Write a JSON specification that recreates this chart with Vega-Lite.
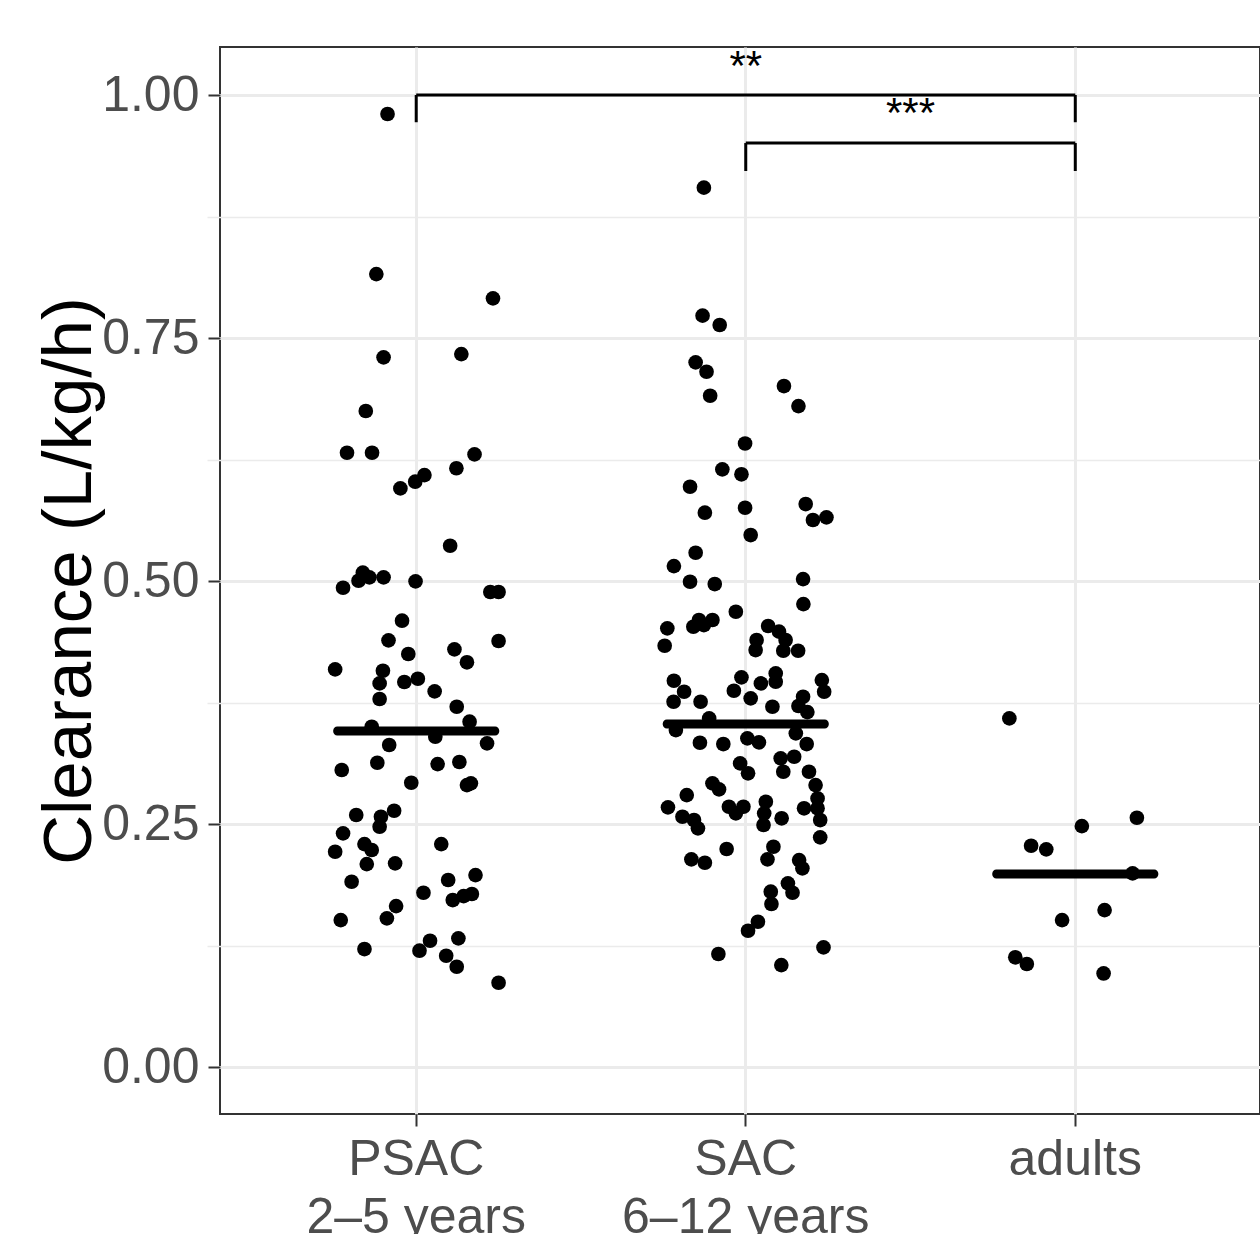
{
"$schema": "https://vega.github.io/schema/vega-lite/v6.json",
"autosize": {"type": "none"},
"padding": {"left": 220, "top": 47, "right": 0, "bottom": 120},
"width": 1040,
"height": 1067,
"background": "white",
"config": {
  "view": {"stroke": "#333333", "strokeWidth": 2},
  "font": "Liberation Sans",
  "axis": {"gridColor": "#EBEBEB", "gridWidth": 3, "domain": false, "tickColor": "#333333", "tickWidth": 2, "tickSize": 12, "labelColor": "#4D4D4D", "labelFont": "Liberation Sans", "labelFontSize": 50, "labelLimit": 0, "titleFont": "Liberation Sans", "titleColor": "#000000", "titleFontWeight": "normal"}
},
"datasets": {
  "points": [
    {"group":"PSAC","clearance":0.9805,"jitter":-0.087},{"group":"PSAC","clearance":0.8158,"jitter":-0.121},{"group":"PSAC","clearance":0.7908,"jitter":0.233},{"group":"PSAC","clearance":0.7301,"jitter":-0.099},{"group":"PSAC","clearance":0.7335,"jitter":0.137},{"group":"PSAC","clearance":0.6749,"jitter":-0.153},{"group":"PSAC","clearance":0.632,"jitter":-0.21},{"group":"PSAC","clearance":0.632,"jitter":-0.134},{"group":"PSAC","clearance":0.6303,"jitter":0.177},{"group":"PSAC","clearance":0.616,"jitter":0.122},{"group":"PSAC","clearance":0.609,"jitter":0.025},{"group":"PSAC","clearance":0.6022,"jitter":-0.003},{"group":"PSAC","clearance":0.5953,"jitter":-0.048},{"group":"PSAC","clearance":0.5363,"jitter":0.103},{"group":"PSAC","clearance":0.5086,"jitter":-0.162},{"group":"PSAC","clearance":0.5038,"jitter":-0.142},{"group":"PSAC","clearance":0.5003,"jitter":-0.175},{"group":"PSAC","clearance":0.5038,"jitter":-0.099},{"group":"PSAC","clearance":0.4931,"jitter":-0.222},{"group":"PSAC","clearance":0.4997,"jitter":-0.002},{"group":"PSAC","clearance":0.4887,"jitter":0.225},{"group":"PSAC","clearance":0.4887,"jitter":0.25},{"group":"PSAC","clearance":0.4592,"jitter":-0.043},{"group":"PSAC","clearance":0.439,"jitter":-0.084},{"group":"PSAC","clearance":0.4383,"jitter":0.25},{"group":"PSAC","clearance":0.4249,"jitter":-0.024},{"group":"PSAC","clearance":0.4297,"jitter":0.116},{"group":"PSAC","clearance":0.4164,"jitter":0.154},{"group":"PSAC","clearance":0.4091,"jitter":-0.246},{"group":"PSAC","clearance":0.4077,"jitter":-0.101},{"group":"PSAC","clearance":0.3947,"jitter":-0.111},{"group":"PSAC","clearance":0.3961,"jitter":-0.036},{"group":"PSAC","clearance":0.3995,"jitter":0.005},{"group":"PSAC","clearance":0.3865,"jitter":0.056},{"group":"PSAC","clearance":0.3786,"jitter":-0.111},{"group":"PSAC","clearance":0.3707,"jitter":0.123},{"group":"PSAC","clearance":0.3553,"jitter":0.162},{"group":"PSAC","clearance":0.3501,"jitter":-0.135},{"group":"PSAC","clearance":0.3398,"jitter":0.058},{"group":"PSAC","clearance":0.333,"jitter":0.215},{"group":"PSAC","clearance":0.3313,"jitter":-0.082},{"group":"PSAC","clearance":0.3056,"jitter":-0.226},{"group":"PSAC","clearance":0.3131,"jitter":-0.118},{"group":"PSAC","clearance":0.3117,"jitter":0.065},{"group":"PSAC","clearance":0.3138,"jitter":0.131},{"group":"PSAC","clearance":0.2925,"jitter":-0.015},{"group":"PSAC","clearance":0.2901,"jitter":0.154},{"group":"PSAC","clearance":0.2919,"jitter":0.166},{"group":"PSAC","clearance":0.2593,"jitter":-0.182},{"group":"PSAC","clearance":0.2575,"jitter":-0.107},{"group":"PSAC","clearance":0.2637,"jitter":-0.067},{"group":"PSAC","clearance":0.2472,"jitter":-0.111},{"group":"PSAC","clearance":0.2404,"jitter":-0.222},{"group":"PSAC","clearance":0.2294,"jitter":-0.157},{"group":"PSAC","clearance":0.2233,"jitter":-0.135},{"group":"PSAC","clearance":0.2215,"jitter":-0.246},{"group":"PSAC","clearance":0.2294,"jitter":0.076},{"group":"PSAC","clearance":0.2088,"jitter":-0.15},{"group":"PSAC","clearance":0.2096,"jitter":-0.064},{"group":"PSAC","clearance":0.1906,"jitter":-0.196},{"group":"PSAC","clearance":0.1924,"jitter":0.097},{"group":"PSAC","clearance":0.1975,"jitter":0.18},{"group":"PSAC","clearance":0.1793,"jitter":0.022},{"group":"PSAC","clearance":0.1718,"jitter":0.111},{"group":"PSAC","clearance":0.1759,"jitter":0.144},{"group":"PSAC","clearance":0.178,"jitter":0.169},{"group":"PSAC","clearance":0.1512,"jitter":-0.229},{"group":"PSAC","clearance":0.1656,"jitter":-0.061},{"group":"PSAC","clearance":0.153,"jitter":-0.089},{"group":"PSAC","clearance":0.1214,"jitter":-0.157},{"group":"PSAC","clearance":0.1299,"jitter":0.042},{"group":"PSAC","clearance":0.1197,"jitter":0.01},{"group":"PSAC","clearance":0.1324,"jitter":0.128},{"group":"PSAC","clearance":0.1145,"jitter":0.091},{"group":"PSAC","clearance":0.1032,"jitter":0.123},{"group":"PSAC","clearance":0.0867,"jitter":0.25},
    {"group":"SAC","clearance":0.9047,"jitter":-0.127},{"group":"SAC","clearance":0.773,"jitter":-0.131},{"group":"SAC","clearance":0.7634,"jitter":-0.079},{"group":"SAC","clearance":0.725,"jitter":-0.152},{"group":"SAC","clearance":0.7153,"jitter":-0.119},{"group":"SAC","clearance":0.6906,"jitter":-0.108},{"group":"SAC","clearance":0.7006,"jitter":0.116},{"group":"SAC","clearance":0.68,"jitter":0.16},{"group":"SAC","clearance":0.6415,"jitter":-0.002},{"group":"SAC","clearance":0.6149,"jitter":-0.071},{"group":"SAC","clearance":0.6098,"jitter":-0.013},{"group":"SAC","clearance":0.597,"jitter":-0.169},{"group":"SAC","clearance":0.5703,"jitter":-0.124},{"group":"SAC","clearance":0.5754,"jitter":-0.002},{"group":"SAC","clearance":0.5792,"jitter":0.182},{"group":"SAC","clearance":0.5628,"jitter":0.204},{"group":"SAC","clearance":0.5655,"jitter":0.245},{"group":"SAC","clearance":0.5473,"jitter":0.015},{"group":"SAC","clearance":0.5291,"jitter":-0.152},{"group":"SAC","clearance":0.5154,"jitter":-0.218},{"group":"SAC","clearance":0.4993,"jitter":-0.169},{"group":"SAC","clearance":0.4969,"jitter":-0.094},{"group":"SAC","clearance":0.502,"jitter":0.174},{"group":"SAC","clearance":0.4763,"jitter":0.175},{"group":"SAC","clearance":0.4684,"jitter":-0.03},{"group":"SAC","clearance":0.4599,"jitter":-0.142},{"group":"SAC","clearance":0.4599,"jitter":-0.101},{"group":"SAC","clearance":0.453,"jitter":-0.159},{"group":"SAC","clearance":0.4547,"jitter":-0.127},{"group":"SAC","clearance":0.4513,"jitter":-0.238},{"group":"SAC","clearance":0.4334,"jitter":-0.246},{"group":"SAC","clearance":0.4537,"jitter":0.068},{"group":"SAC","clearance":0.4479,"jitter":0.101},{"group":"SAC","clearance":0.4393,"jitter":0.121},{"group":"SAC","clearance":0.4393,"jitter":0.033},{"group":"SAC","clearance":0.429,"jitter":0.03},{"group":"SAC","clearance":0.4283,"jitter":0.114},{"group":"SAC","clearance":0.4283,"jitter":0.159},{"group":"SAC","clearance":0.3974,"jitter":-0.218},{"group":"SAC","clearance":0.3861,"jitter":-0.187},{"group":"SAC","clearance":0.3758,"jitter":-0.219},{"group":"SAC","clearance":0.3758,"jitter":-0.137},{"group":"SAC","clearance":0.4009,"jitter":-0.013},{"group":"SAC","clearance":0.3871,"jitter":-0.036},{"group":"SAC","clearance":0.3793,"jitter":0.015},{"group":"SAC","clearance":0.3947,"jitter":0.046},{"group":"SAC","clearance":0.405,"jitter":0.091},{"group":"SAC","clearance":0.3964,"jitter":0.091},{"group":"SAC","clearance":0.3707,"jitter":0.081},{"group":"SAC","clearance":0.3981,"jitter":0.231},{"group":"SAC","clearance":0.3861,"jitter":0.238},{"group":"SAC","clearance":0.381,"jitter":0.174},{"group":"SAC","clearance":0.3714,"jitter":0.16},{"group":"SAC","clearance":0.3652,"jitter":0.187},{"group":"SAC","clearance":0.3587,"jitter":-0.111},{"group":"SAC","clearance":0.3467,"jitter":-0.212},{"group":"SAC","clearance":0.3336,"jitter":-0.139},{"group":"SAC","clearance":0.3323,"jitter":-0.068},{"group":"SAC","clearance":0.3382,"jitter":0.005},{"group":"SAC","clearance":0.334,"jitter":0.04},{"group":"SAC","clearance":0.3433,"jitter":0.152},{"group":"SAC","clearance":0.3323,"jitter":0.185},{"group":"SAC","clearance":0.3176,"jitter":0.106},{"group":"SAC","clearance":0.3192,"jitter":0.147},{"group":"SAC","clearance":0.3038,"jitter":0.114},{"group":"SAC","clearance":0.3124,"jitter":-0.017},{"group":"SAC","clearance":0.3022,"jitter":0.007},{"group":"SAC","clearance":0.3038,"jitter":0.192},{"group":"SAC","clearance":0.2901,"jitter":0.212},{"group":"SAC","clearance":0.2764,"jitter":0.218},{"group":"SAC","clearance":0.2919,"jitter":-0.101},{"group":"SAC","clearance":0.2857,"jitter":-0.081},{"group":"SAC","clearance":0.2798,"jitter":-0.179},{"group":"SAC","clearance":0.2672,"jitter":-0.236},{"group":"SAC","clearance":0.2575,"jitter":-0.192},{"group":"SAC","clearance":0.2541,"jitter":-0.157},{"group":"SAC","clearance":0.2456,"jitter":-0.145},{"group":"SAC","clearance":0.2678,"jitter":-0.051},{"group":"SAC","clearance":0.2678,"jitter":-0.007},{"group":"SAC","clearance":0.261,"jitter":-0.03},{"group":"SAC","clearance":0.2729,"jitter":0.061},{"group":"SAC","clearance":0.261,"jitter":0.056},{"group":"SAC","clearance":0.249,"jitter":0.054},{"group":"SAC","clearance":0.2559,"jitter":0.109},{"group":"SAC","clearance":0.2662,"jitter":0.177},{"group":"SAC","clearance":0.2662,"jitter":0.218},{"group":"SAC","clearance":0.2541,"jitter":0.226},{"group":"SAC","clearance":0.2363,"jitter":0.226},{"group":"SAC","clearance":0.2243,"jitter":-0.058},{"group":"SAC","clearance":0.2137,"jitter":-0.165},{"group":"SAC","clearance":0.2102,"jitter":-0.124},{"group":"SAC","clearance":0.2266,"jitter":0.084},{"group":"SAC","clearance":0.2137,"jitter":0.066},{"group":"SAC","clearance":0.2129,"jitter":0.162},{"group":"SAC","clearance":0.2044,"jitter":0.172},{"group":"SAC","clearance":0.189,"jitter":0.128},{"group":"SAC","clearance":0.1793,"jitter":0.142},{"group":"SAC","clearance":0.1804,"jitter":0.076},{"group":"SAC","clearance":0.1677,"jitter":0.078},{"group":"SAC","clearance":0.1495,"jitter":0.037},{"group":"SAC","clearance":0.1402,"jitter":0.007},{"group":"SAC","clearance":0.1163,"jitter":-0.083},{"group":"SAC","clearance":0.1231,"jitter":0.236},{"group":"SAC","clearance":0.1049,"jitter":0.108},
    {"group":"adults","clearance":0.3587,"jitter":-0.2},{"group":"adults","clearance":0.2479,"jitter":0.02},{"group":"adults","clearance":0.2565,"jitter":0.187},{"group":"adults","clearance":0.2277,"jitter":-0.134},{"group":"adults","clearance":0.224,"jitter":-0.088},{"group":"adults","clearance":0.1993,"jitter":0.174},{"group":"adults","clearance":0.1615,"jitter":0.089},{"group":"adults","clearance":0.1512,"jitter":-0.04},{"group":"adults","clearance":0.1129,"jitter":-0.182},{"group":"adults","clearance":0.106,"jitter":-0.147},{"group":"adults","clearance":0.0963,"jitter":0.086}
  ],
  "medians": [
    {"group":"PSAC","clearance":0.3457},{"group":"SAC","clearance":0.3529},{"group":"adults","clearance":0.1986}
  ],
  "brackets": [
    {"from":"PSAC","to":"adults","mid":"SAC","top":1.0,"bottom":0.972,"label":"**","label_y":1.0155,"jitter":0},
    {"from":"SAC","to":"adults","mid":"SAC","top":0.9506,"bottom":0.9218,"label":"***","label_y":0.967,"jitter":0.5}
  ]
},
"resolve": {"axis": {"y": "independent"}},
"layer": [
  {
    "data": {"name": "points"},
    "mark": {"type": "circle", "size": 215, "color": "black", "opacity": 1},
    "encoding": {
      "x": {"field": "group", "type": "nominal", "title": null,
        "scale": {"domain": ["PSAC","SAC","adults"], "range": [-1.5, 1053], "paddingInner": 0, "paddingOuter": 0.1},
        "axis": {"title": null, "labelAngle": 0, "labelPadding": 8, "labelLineHeight": 58, "labelFontSize": 50, "labelLimit": 0, "grid": true,
          "labelExpr": "datum.value == 'PSAC' ? ['PSAC', '2–5 years'] : datum.value == 'SAC' ? ['SAC', '6–12 years'] : datum.value"}},
      "xOffset": {"field": "jitter", "type": "quantitative", "scale": {"domain": [-0.5, 0.5], "range": [0, 329.5]}},
      "y": {"field": "clearance", "type": "quantitative", "title": "Clearance (L/kg/h)",
        "scale": {"domain": [-0.0483, 1.0494], "nice": false, "zero": false},
        "axis": {"values": [0, 0.25, 0.5, 0.75, 1], "format": ".2f", "title": "Clearance (L/kg/h)", "titleFontSize": 69, "labelPadding": 9, "titleX": -151, "titleY": 533.5, "titleBaseline": "middle", "titleAlign": "center", "titleAngle": 270}}
    }
  },
  {
    "data": {"name": "medians"},
    "mark": {"type": "tick", "color": "black", "size": 166, "thickness": 9, "cornerRadius": 4, "opacity": 1},
    "encoding": {
      "x": {"field": "group", "type": "nominal", "title": null,
        "scale": {"domain": ["PSAC","SAC","adults"], "range": [-1.5, 1053], "paddingInner": 0, "paddingOuter": 0.1}},
      "y": {"field": "clearance", "type": "quantitative", "title": null,
        "scale": {"domain": [-0.0483, 1.0494], "nice": false, "zero": false},
        "axis": {"orient": "right", "values": [0.125, 0.375, 0.625, 0.875], "grid": true, "gridWidth": 1.5, "labels": false, "ticks": false, "domain": false, "title": null}}
    }
  },
  {
    "data": {"name": "brackets"},
    "mark": {"type": "rule", "color": "black", "strokeWidth": 3},
    "encoding": {
      "x": {"field": "from", "type": "nominal", "title": null,
        "scale": {"domain": ["PSAC","SAC","adults"], "range": [-1.5, 1053], "paddingInner": 0, "paddingOuter": 0.1}},
      "x2": {"field": "to"},
      "y": {"field": "top", "type": "quantitative", "title": null,
        "scale": {"domain": [-0.0483, 1.0494], "nice": false, "zero": false}, "axis": null}
    }
  },
  {
    "data": {"name": "brackets"},
    "mark": {"type": "rule", "color": "black", "strokeWidth": 3},
    "encoding": {
      "x": {"field": "from", "type": "nominal", "title": null,
        "scale": {"domain": ["PSAC","SAC","adults"], "range": [-1.5, 1053], "paddingInner": 0, "paddingOuter": 0.1}},
      "y": {"field": "top", "type": "quantitative", "title": null,
        "scale": {"domain": [-0.0483, 1.0494], "nice": false, "zero": false}, "axis": null},
      "y2": {"field": "bottom"}
    }
  },
  {
    "data": {"name": "brackets"},
    "mark": {"type": "rule", "color": "black", "strokeWidth": 3},
    "encoding": {
      "x": {"field": "to", "type": "nominal", "title": null,
        "scale": {"domain": ["PSAC","SAC","adults"], "range": [-1.5, 1053], "paddingInner": 0, "paddingOuter": 0.1}},
      "y": {"field": "top", "type": "quantitative", "title": null,
        "scale": {"domain": [-0.0483, 1.0494], "nice": false, "zero": false}, "axis": null},
      "y2": {"field": "bottom"}
    }
  },
  {
    "data": {"name": "brackets"},
    "mark": {"type": "text", "color": "black", "fontSize": 42, "font": "Liberation Sans", "align": "center", "baseline": "alphabetic"},
    "encoding": {
      "x": {"field": "mid", "type": "nominal", "title": null,
        "scale": {"domain": ["PSAC","SAC","adults"], "range": [-1.5, 1053], "paddingInner": 0, "paddingOuter": 0.1}},
      "xOffset": {"field": "jitter", "type": "quantitative", "scale": {"domain": [-0.5, 0.5], "range": [0, 329.5]}},
      "y": {"field": "label_y", "type": "quantitative", "title": null,
        "scale": {"domain": [-0.0483, 1.0494], "nice": false, "zero": false}, "axis": null},
      "text": {"field": "label"}
    }
  }
]
}
